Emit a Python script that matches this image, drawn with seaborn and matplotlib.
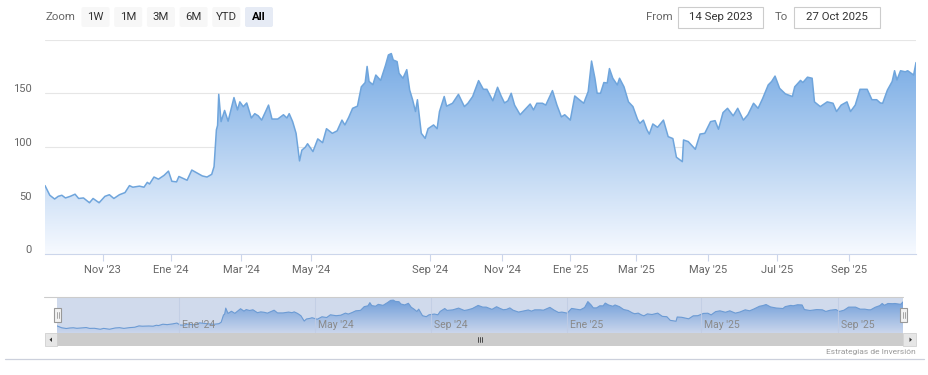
import numpy as np
import pandas as pd
import matplotlib
matplotlib.use('Agg')
import matplotlib.pyplot as plt
import matplotlib.dates as mdates
from matplotlib.patches import Rectangle, FancyBboxPatch, Polygon
from matplotlib.transforms import offset_copy, blended_transform_factory
import seaborn as sns

# days since 14 Sep 2023 and price
days = [0, 4, 8, 11, 14, 17, 21, 25, 28, 32, 37, 40, 45,
        50, 54, 58, 63, 68, 72, 75, 81, 85, 88, 90, 94, 98, 103, 107,
        110, 114, 116, 123, 127, 132, 136, 140, 144, 146, 148, 149, 150, 152, 155, 158, 163, 166, 168,
        171, 174, 178, 181, 184, 187, 193, 196, 201, 206, 209, 211, 214, 217, 220, 222, 225, 227,
        232, 237, 242, 246, 252, 257, 262, 265, 269, 273, 278, 282, 286, 288, 290, 294, 297, 302,
        307, 310, 313, 315, 319, 321, 325, 329, 332, 335, 338, 340, 344, 348, 351,
        356, 359, 361, 365, 367, 372, 377, 382, 385, 389, 394, 398, 401, 406, 410, 413,
        416, 419, 422, 425, 430, 434, 439, 442, 445, 450, 453, 459, 463, 467, 470, 475,
        479, 483, 487, 491, 494, 497, 499, 502, 505, 508, 510, 513, 517, 519, 523, 527, 531,
        535, 537, 540, 543, 545, 548, 552, 557, 561, 565, 568, 573, 574, 578, 584, 588, 592,
        597, 601, 604, 608, 612, 617, 621, 626, 630, 635, 639, 643, 648, 651, 654,
        658, 663, 669, 671, 676, 678, 682, 686, 688, 693, 699, 704, 707, 711, 716,
        719, 723, 727, 733, 737, 741, 744, 746, 750, 754, 756, 758, 761, 765, 767, 772, 774]
price = [64, 55, 51.5, 54, 55, 52.5, 54, 56, 52, 52.5, 48, 52, 48,
         54, 55.5, 52, 55.5, 57.5, 64, 62.5, 63.5, 62.5, 67, 65.5, 72, 70, 73.5, 77.5,
         68, 67.5, 72.5, 69, 78.5, 75.5, 73, 72, 74.5, 81.7, 116, 120, 149, 123.6, 134, 124, 146, 134.5, 142,
         137.5, 141, 127, 131, 129, 125, 139, 126, 126, 130, 127, 131, 123.6, 112.7, 87, 97, 99.7, 103,
         95.7, 107.5, 104, 117, 112.7, 115, 125, 120.5, 127.6, 136, 138, 156, 160, 175, 161, 158, 167, 162,
         176, 185.7, 187, 181, 179.5, 168.6, 164, 172, 153, 144, 133, 144, 112.7, 108, 117,
         120.5, 117, 133, 147, 138, 140.7, 149, 137.6, 140.7, 147, 161.8, 153.7, 153.7, 143, 155.6, 147.5,
         141, 143, 150, 139, 130, 134.5, 140, 134.5, 140.7, 140.7, 139, 152.5, 139, 128, 130, 125,
         147.5, 144, 140.7, 151.6, 180, 164, 150, 150, 160, 159.6, 173, 164, 157.8, 164, 156, 142, 137.6,
         125.8, 122, 125, 116, 112, 121.4, 118.3, 125, 109.6, 107.8, 90.4, 86.3, 106.5, 105, 97.8, 112, 112.7,
         123.6, 124.5, 116.5, 132, 136, 129, 136, 125, 130, 140.7, 136, 145, 157.8, 161, 166,
         154.6, 149.4, 147, 156, 162, 160, 165, 164, 142, 137.6, 142, 140.7, 133, 139, 142,
         133, 139, 153.7, 153.7, 144, 144, 141, 140.7, 153, 161, 171, 162.4, 171, 170, 171, 167, 178.6]

tick_dates = ['2023-11-01', '2024-01-01', '2024-03-01', '2024-05-01', '2024-09-01', '2024-11-01',
              '2025-01-01', '2025-03-01', '2025-05-01', '2025-07-01', '2025-09-01']
tick_labels = ["Nov '23", "Ene '24", "Mar '24", "May '24", "Sep '24", "Nov '24",
               "Ene '25", "Mar '25", "May '25", "Jul '25", "Sep '25"]
nav_tick_dates = ['2024-01-01', '2024-05-01', '2024-09-01', '2025-01-01', '2025-05-01', '2025-09-01']
nav_tick_labels = ["Ene '24", "May '24", "Sep '24", "Ene '25", "May '25", "Sep '25"]
y_ticks = [0, 50, 100, 150, 200]

# highstock ordinal axis: where the month starts sit along the axis
ord_dates = ['2023-09-14', '2023-11-01', '2024-01-01', '2024-03-01', '2024-05-01', '2024-09-01',
             '2024-11-01', '2025-01-01', '2025-03-01', '2025-05-01', '2025-07-01', '2025-09-01', '2025-10-27']
ord_pos = [45, 102.7, 170.7, 241, 311, 430, 502.3, 570.3, 636.3, 708.3, 777.3, 849.3, 916]

buttons = ['1W', '1M', '3M', '6M', 'YTD', 'All']
date_from = '14 Sep 2023'
date_to = '27 Oct 2025'

start = pd.Timestamp('2023-09-14')
df = pd.DataFrame({'date': mdates.date2num(start + pd.to_timedelta(days, unit='D')),
                   'price': price})
ord_num = mdates.date2num(pd.to_datetime(ord_dates))
ord_p = np.array(ord_pos, dtype=float)


def fwd(v):
    return np.interp(v, ord_num, ord_p)


def inv(p):
    return np.interp(p, ord_p, ord_num)


sns.set_theme(style='white')
plt.rcParams['font.family'] = ['Roboto', 'DejaVu Sans']

W, H = 929, 375
fig = plt.figure(figsize=(W / 100, H / 100), dpi=100)
fig.patch.set_facecolor('white')

line_c = '#6fa5dc'
grad_top = np.array([118, 170, 228]) / 255
grad_bot = np.array([247, 250, 255]) / 255
t = np.linspace(0, 1, 256)[:, None, None]
grad = grad_bot + (grad_top - grad_bot) * t

xmin, xmax = df['date'].min(), df['date'].max()

# ---------------- main chart ----------------
ax = fig.add_axes([45 / W, 1 - 254.3 / H, 871 / W, 214.7 / H])
ax.set_xscale('function', functions=(fwd, inv))
poly = ax.fill_between(df['date'], df['price'], 0, color='none', lw=0)
img = ax.imshow(grad, extent=[0, 1, 0, df['price'].max() / 200], transform=ax.transAxes,
                aspect='auto', origin='lower', zorder=1, interpolation='bilinear')
img.set_clip_path(poly.get_paths()[0], ax.transData)
sns.lineplot(data=df, x='date', y='price', ax=ax, color=line_c, lw=1.1, estimator=None, zorder=3)

ax.set_xlim(xmin, xmax)
ax.set_ylim(0, 200)
ax.set_yticks(y_ticks)
ax.set_yticklabels([])
ax.yaxis.grid(True, color='#e6e6e6', lw=0.8)
ax.set_axisbelow(True)
ax.tick_params(axis='y', length=0)
ax.set_xticks(mdates.date2num(pd.to_datetime(tick_dates)))
ax.set_xticklabels(tick_labels)
ax.tick_params(axis='x', length=5, width=0.8, color='#ccd6eb', pad=3,
               labelcolor='#666666', labelsize=8, bottom=True)
ax.set_xlabel('')
ax.set_ylabel('')
for s in ['top', 'left', 'right']:
    ax.spines[s].set_visible(False)
ax.spines['bottom'].set_color('#ccd6eb')
ax.spines['bottom'].set_linewidth(0.8)
ytrans = offset_copy(ax.get_yaxis_transform(), fig=fig, x=0, y=1, units='dots')
for v in y_ticks[:-1]:
    ax.text(-13 / 871, v, str(v), ha='right', va='baseline', transform=ytrans,
            color='#666666', fontsize=8)

# ---------------- navigator ----------------
nav = fig.add_axes([57 / W, 1 - 333 / H, 846 / W, 36 / H])
nav.set_xscale('function', functions=(fwd, inv))
npoly = nav.fill_between(df['date'], df['price'], 0, color='none', lw=0)
nimg = nav.imshow(grad, extent=[0, 1, 0, (df['price'].max() - 30) / 172], transform=nav.transAxes,
                  aspect='auto', origin='lower', zorder=1, interpolation='bilinear')
nimg.set_clip_path(npoly.get_paths()[0], nav.transData)
sns.lineplot(data=df, x='date', y='price', ax=nav, color=line_c, lw=0.8, estimator=None, zorder=2)
nav.add_patch(Rectangle((0, 0), 1, 1, transform=nav.transAxes, facecolor=(102 / 255, 133 / 255, 194 / 255),
                        alpha=0.3, lw=0, zorder=3))
nav.set_xlim(xmin, xmax)
nav.set_ylim(30, 202)
nav_num = mdates.date2num(pd.to_datetime(nav_tick_dates))
nav.set_xticks(nav_num)
nav.set_xticklabels([])
nav.set_yticks([])
nav.tick_params(length=0)
nav.set_xlabel('')
nav.set_ylabel('')
nav.set_axisbelow(False)
nav.xaxis.grid(True, color='#e8ebf3', lw=0.8, alpha=0.8)
for s in nav.spines.values():
    s.set_visible(False)
ntrans = offset_copy(blended_transform_factory(nav.transData, nav.transAxes), fig=fig, x=3, y=0, units='dots')
for d, lab in zip(nav_num, nav_tick_labels):
    nav.text(d, 0.22, lab, transform=ntrans, ha='left', va='center', color='#8a8a8a', fontsize=7.5, zorder=4)

# ---------------- range selector, scrollbar, credits ----------------
ui = fig.add_axes([0, 0, 1, 1], zorder=5)
ui.set_xlim(0, W)
ui.set_ylim(H, 0)
ui.axis('off')

ui.text(46, 17.5, 'Zoom', ha='left', va='center', color='#666666', fontsize=8.2)
for i, b in enumerate(buttons):
    x0 = 81.5 + 32.7 * i
    sel = b == 'All'
    ui.add_patch(FancyBboxPatch((x0, 7), 28, 20, boxstyle='round,pad=0,rounding_size=2',
                                facecolor='#e6ebf5' if sel else '#f7f7f7', edgecolor='none'))
    ui.text(x0 + 14, 17.5, b, ha='center', va='center', color='#000000' if sel else '#333333',
            fontsize=8.2, fontweight='bold' if sel else 'normal')

ui.text(673, 17.5, 'From', ha='right', va='center', color='#666666', fontsize=8.2)
ui.add_patch(Rectangle((678, 7), 85, 21, facecolor='white', edgecolor='#cccccc', lw=0.8))
ui.text(720.5, 17.5, date_from, ha='center', va='center', color='#333333', fontsize=8.2)
ui.text(788, 17.5, 'To', ha='right', va='center', color='#666666', fontsize=8.2)
ui.add_patch(Rectangle((794, 7), 86, 21, facecolor='white', edgecolor='#cccccc', lw=0.8))
ui.text(837, 17.5, date_to, ha='center', va='center', color='#333333', fontsize=8.2)

# navigator outline and handles
ui.plot([44, 903.5], [297.3, 297.3], color='#cccccc', lw=0.8)
for hx, hy0 in [(57.5, 308), (903.5, 308)]:
    ui.add_patch(Rectangle((hx - 3, hy0), 6.5, 13.5, facecolor='#f2f2f2', edgecolor='#999999', lw=0.8))
    for dx in (-0.8, 1.3):
        ui.plot([hx + dx, hx + dx], [hy0 + 3.5, hy0 + 10], color='#999999', lw=0.6)

# scrollbar
ui.add_patch(Rectangle((45, 333.3), 871, 12.7, facecolor='#f2f2f2', edgecolor='none'))
ui.add_patch(Rectangle((57, 333.3), 846, 12.7, facecolor='#cccccc', edgecolor='none'))
ui.add_patch(Rectangle((45, 333.3), 12, 12.7, facecolor='#e6e6e6', edgecolor='#cccccc', lw=0.5))
ui.add_patch(Rectangle((903.5, 333.3), 12.5, 12.7, facecolor='#e6e6e6', edgecolor='#cccccc', lw=0.5))
ui.add_patch(Polygon([[49.5, 339.7], [52, 337.5], [52, 342]], closed=True, facecolor='#333333', edgecolor='none'))
ui.add_patch(Polygon([[912, 339.7], [909.5, 337.5], [909.5, 342]], closed=True, facecolor='#333333', edgecolor='none'))
for dx in (-2, 0, 2):
    ui.plot([480 + dx, 480 + dx], [337.3, 342.3], color='#333333', lw=0.6)

ui.text(915.7, 352, 'Estrategias de Inversión', ha='right', va='center', color='#999999', fontsize=6)
ui.plot([5, 924], [359, 359], color='#ccd0dc', lw=0.9)

fig.savefig('out.png', dpi=100, facecolor='white')
